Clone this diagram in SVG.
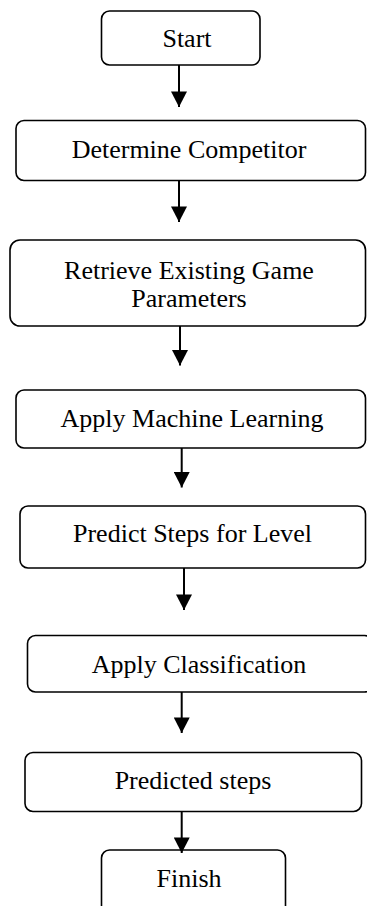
<svg xmlns="http://www.w3.org/2000/svg" width="367" height="906" viewBox="0 0 367 906">
<style>
.box{fill:#fff;stroke:#000;stroke-width:1.6}
.t{font-family:"Liberation Serif","Times New Roman",serif;font-size:26px;fill:#000;text-anchor:middle}
.c{stroke:#000;stroke-width:2;fill:none;marker-end:url(#ah)}
</style>
<defs>
<marker id="ah" markerUnits="userSpaceOnUse" markerWidth="16" markerHeight="16" viewBox="0 0 15 15.5" refX="15" refY="7.75" orient="auto">
<path d="M0,0 L15,7.75 L0,15.5 Z" fill="#000"/>
</marker>
</defs>
<rect width="367" height="906" fill="#fff"/>
<g id="start"><rect class="box" x="101.5" y="11" width="158.5" height="54" rx="8"/><text class="t" x="187" y="47">Start</text></g>
<g id="determine"><rect class="box" x="16" y="120.5" width="349.5" height="60" rx="8"/><text class="t" x="189" y="158">Determine Competitor</text></g>
<g id="retrieve"><rect class="box" x="10" y="240" width="355.5" height="86" rx="10"/><text class="t" x="189" y="279">Retrieve Existing Game</text><text class="t" x="189" y="307">Parameters</text></g>
<g id="applyml"><rect class="box" x="16" y="390" width="349.5" height="58" rx="8"/><text class="t" x="192" y="427">Apply Machine Learning</text></g>
<g id="predict"><rect class="box" x="20" y="506" width="345.5" height="62" rx="8"/><text class="t" x="192.5" y="542">Predict Steps for Level</text></g>
<g id="classify"><rect class="box" x="27.5" y="635.5" width="345" height="56.5" rx="8"/><text class="t" x="199" y="673">Apply Classification</text></g>
<g id="predicted"><rect class="box" x="25" y="752.5" width="336.5" height="59" rx="8"/><text class="t" x="193" y="789">Predicted steps</text></g>
<g id="finish"><rect class="box" x="101.5" y="850" width="184" height="70" rx="8"/><text class="t" x="189" y="887">Finish</text></g>
<g id="connectors">
<line class="c" x1="179" y1="65" x2="179" y2="107"/>
<line class="c" x1="179" y1="181" x2="179" y2="222"/>
<line class="c" x1="180" y1="326" x2="180" y2="365.5"/>
<line class="c" x1="181.7" y1="448" x2="181.7" y2="487.5"/>
<line class="c" x1="184" y1="568" x2="184" y2="610"/>
<line class="c" x1="181.7" y1="692" x2="181.7" y2="733"/>
<line class="c" x1="181.7" y1="812" x2="181.7" y2="853"/>
</g>
</svg>
